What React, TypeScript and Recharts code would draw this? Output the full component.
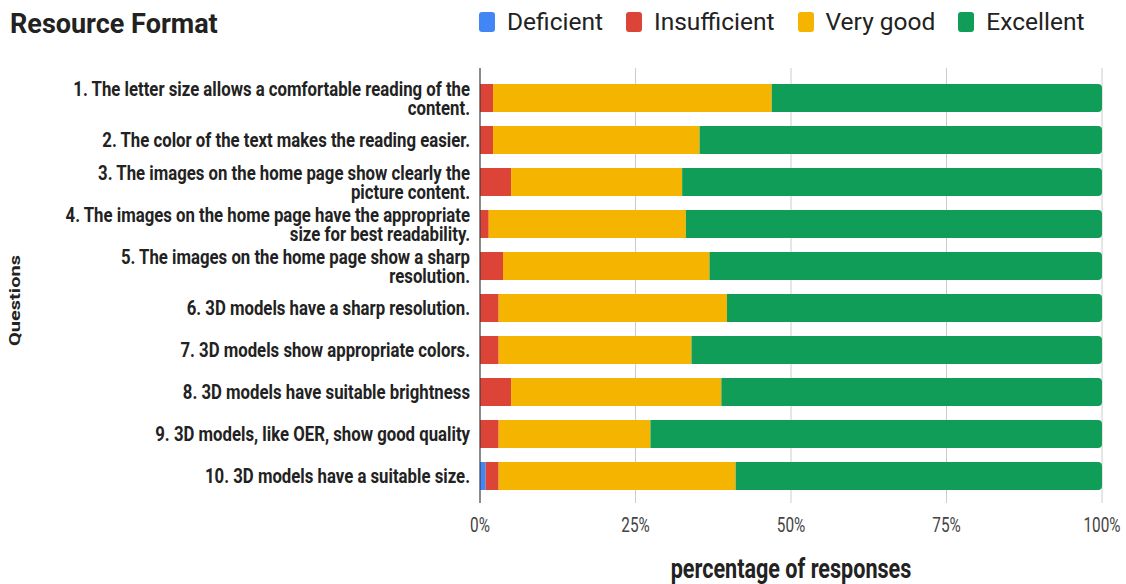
import React from "react";
import {
  Bar,
  BarChart,
  CartesianGrid,
  Legend,
  XAxis,
  YAxis,
} from "recharts";

const questions = [
  "1. The letter size allows a comfortable reading of the content.",
  "2. The color of the text makes the reading easier.",
  "3. The images on the home page show clearly the picture content.",
  "4. The images on the home page have the appropriate size for best readability.",
  "5. The images on the home page show a sharp resolution.",
  "6. 3D models have a sharp resolution.",
  "7. 3D models show appropriate colors.",
  "8. 3D models have suitable brightness",
  "9. 3D models, like OER, show good quality",
  "10. 3D models have a suitable size.",
];

const seriesNames = ["Deficient", "Insufficient", "Very good", "Excellent"];
const deficient = [0, 0, 0, 0, 0, 0, 0, 0, 0, 0.9];
const insufficient = [2.1, 2.1, 5.0, 1.4, 3.7, 3.0, 3.0, 5.0, 3.0, 2.1];
const veryGood = [44.8, 33.2, 27.5, 31.7, 33.2, 36.7, 31.0, 33.8, 24.4, 38.1];
const excellent = [53.1, 64.7, 67.5, 66.9, 63.1, 60.3, 66.0, 61.2, 72.6, 58.9];

const xTicks = [0, 25, 50, 75, 100];

const data = questions.map((q, i) => ({
  question: q,
  deficient: deficient[i],
  insufficient: insufficient[i],
  veryGood: veryGood[i],
  excellent: excellent[i],
}));

const FONT = "Roboto, 'Noto Sans', sans-serif";

// break a label into lines of at most `max` characters
const wrap = (text: string, max: number) => {
  const lines: string[] = [];
  let cur = "";
  text.split(" ").forEach((w) => {
    const next = cur ? cur + " " + w : w;
    if (next.length > max && cur) {
      lines.push(cur);
      cur = w;
    } else {
      cur = next;
    }
  });
  if (cur) lines.push(cur);
  return lines;
};

const QuestionTick = (props: any) => {
  const { x, y, payload } = props;
  const lines = wrap(payload.value, 54);
  return (
    <g transform={`translate(${x},${y}) scale(0.86,1)`}>
      <text textAnchor="end" fontSize={19.5} fontWeight={700} fill="#222" fontFamily={FONT}>
        {lines.map((l, i) => (
          <tspan key={i} x={0} y={7 - (lines.length - 1) * 9.5 + i * 19}>
            {l}
          </tspan>
        ))}
      </text>
    </g>
  );
};

const PctTick = (props: any) => {
  const { x, y, payload } = props;
  return (
    <g transform={`translate(${x},${y}) scale(0.73,1)`}>
      <text textAnchor="middle" y={22.7} fontSize={21} fill="#444" fontFamily={FONT}>
        {payload.value}%
      </text>
    </g>
  );
};

const XTitle = (props: any) => {
  const { viewBox } = props;
  const cx = viewBox.x + viewBox.width / 2;
  return (
    <g transform={`translate(${cx},${viewBox.y + 75}) scale(0.8,1)`}>
      <text textAnchor="middle" fontSize={27} fontWeight={700} fill="#222" fontFamily={FONT}>
        percentage of responses
      </text>
    </g>
  );
};

const YTitle = (props: any) => {
  const { viewBox } = props;
  const cy = viewBox.y + viewBox.height / 2 + 15;
  return (
    <g transform={`translate(20,${cy}) scale(0.7,1) rotate(-90)`}>
      <text textAnchor="middle" fontSize={20} fontWeight={700} fill="#222" fontFamily={FONT}>
        Questions
      </text>
    </g>
  );
};

const LegendContent = (props: any) => {
  const items = [...(props.payload || [])].sort(
    (a: any, b: any) => seriesNames.indexOf(a.value) - seriesNames.indexOf(b.value)
  );
  return (
    <div style={{ display: "flex", alignItems: "center", fontFamily: FONT, fontSize: 24.5, color: "#222" }}>
      {items.map((e: any) => (
        <div key={e.value} style={{ display: "flex", alignItems: "center", marginRight: 23 }}>
          <span
            style={{ display: "inline-block", width: 16, height: 20, background: e.color, borderRadius: 3, marginRight: 12 }}
          />
          <span>{e.value}</span>
        </div>
      ))}
    </div>
  );
};

export default function App() {
  return (
    <div style={{ position: "absolute", left: 0, top: 0, width: 1126, height: 584, background: "#fff" }}>
      <div
        style={{
          position: "absolute",
          left: 10,
          top: 8,
          fontFamily: FONT,
          fontSize: 27,
          fontWeight: 700,
          color: "#222",
          whiteSpace: "nowrap",
          zIndex: 2,
        }}
      >
        Resource Format
      </div>
      <BarChart
        width={1126}
        height={584}
        data={data}
        layout="vertical"
        margin={{ top: 68, right: 24, bottom: 51, left: 0 }}
        barSize={28}
      >
        <CartesianGrid horizontal={false} stroke="#ccc" />
        <XAxis
          type="number"
          domain={[0, 100]}
          ticks={xTicks}
          axisLine={false}
          tickLine={false}
          tickMargin={0}
          height={30}
          tick={<PctTick />}
          label={<XTitle />}
        />
        <YAxis
          type="category"
          dataKey="question"
          width={480}
          axisLine={{ stroke: "#333" }}
          tickLine={false}
          tickMargin={4}
          padding={{ top: 9, bottom: 6 }}
          interval={0}
          tick={<QuestionTick />}
          label={<YTitle />}
        />
        <Legend
          layout="horizontal"
          verticalAlign="middle"
          align="center"
          wrapperStyle={{ top: 7, left: 479, width: "auto" }}
          content={<LegendContent />}
        />
        <Bar dataKey="deficient" name={seriesNames[0]} stackId="a" fill="#4285F4" isAnimationActive={false} />
        <Bar dataKey="insufficient" name={seriesNames[1]} stackId="a" fill="#DB4437" isAnimationActive={false} />
        <Bar dataKey="veryGood" name={seriesNames[2]} stackId="a" fill="#F4B400" isAnimationActive={false} />
        <Bar
          dataKey="excellent"
          name={seriesNames[3]}
          stackId="a"
          fill="#0F9D58"
          radius={[0, 4, 4, 0]}
          isAnimationActive={false}
        />
      </BarChart>
    </div>
  );
}
